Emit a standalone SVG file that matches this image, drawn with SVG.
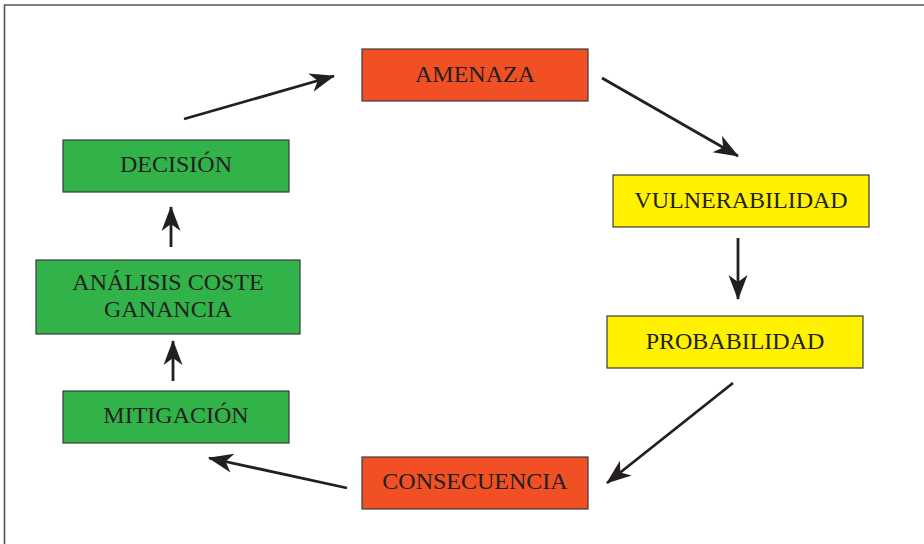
<svg xmlns="http://www.w3.org/2000/svg" width="924" height="544" viewBox="0 0 924 544">
<style>
.box{stroke:#3a3a3a;stroke-width:1.2}
.red{fill:#f05023}
.yel{fill:#fff100}
.grn{fill:#31b34a}
.lbl{font-family:"Liberation Serif","Times New Roman",serif;font-size:24px;fill:#231f20;text-anchor:middle}
.con{stroke:#231f20;stroke-width:2.8;fill:none;marker-end:url(#ah)}
</style>
<defs>
<marker id="ah" markerUnits="userSpaceOnUse" viewBox="-28 -14 30 28" refX="0" refY="0" markerWidth="30" markerHeight="28" orient="auto">
<path d="M1,0 L-24,-9.5 L-17,0 L-24,9.5 Z" fill="#231f20"/>
</marker>
</defs>
<rect width="924" height="544" fill="#fff"/>
<path d="M4.5,544 V5 H924" fill="none" stroke="#555" stroke-width="1.6"/>
<g id="connectors">
<line class="con" x1="184" y1="119" x2="334" y2="76"/>
<line class="con" x1="602" y1="78" x2="738" y2="156"/>
<line class="con" x1="738" y1="238" x2="738" y2="299"/>
<line class="con" x1="733" y1="383" x2="607" y2="483"/>
<line class="con" x1="347" y1="488" x2="209" y2="458"/>
<line class="con" x1="173" y1="381" x2="173" y2="341"/>
<line class="con" x1="171" y1="247" x2="171" y2="207"/>
</g>
<g id="amenaza"><rect class="box red" x="362" y="49" width="226" height="52"/><text class="lbl" x="475" y="82">AMENAZA</text></g>
<g id="vulnerabilidad"><rect class="box yel" x="613" y="175" width="256" height="52"/><text class="lbl" x="741" y="208">VULNERABILIDAD</text></g>
<g id="probabilidad"><rect class="box yel" x="607" y="316" width="256" height="52"/><text class="lbl" x="735" y="349">PROBABILIDAD</text></g>
<g id="consecuencia"><rect class="box red" x="362" y="457" width="226" height="52"/><text class="lbl" x="475" y="489">CONSECUENCIA</text></g>
<g id="mitigacion"><rect class="box grn" x="63" y="391" width="226" height="52"/><text class="lbl" x="176" y="423">MITIGACIÓN</text></g>
<g id="analisis"><rect class="box grn" x="36" y="260" width="264" height="74"/><text class="lbl" x="168" y="290">ANÁLISIS COSTE</text><text class="lbl" x="168" y="317">GANANCIA</text></g>
<g id="decision"><rect class="box grn" x="63" y="140" width="226" height="52"/><text class="lbl" x="176" y="172">DECISIÓN</text></g>
</svg>
